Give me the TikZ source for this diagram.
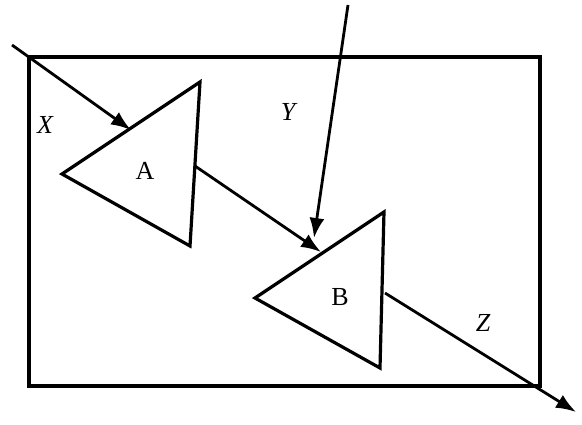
\documentclass[tikz,border=0pt]{standalone}
\usepackage{fontspec}
\setmainfont{Liberation Serif}
\usetikzlibrary{arrows.meta}
\begin{document}
\begin{tikzpicture}[x=1pt,y=-1pt,
  thick line/.style={line width=3.2pt, line join=miter},
  ray/.style={line width=2.8pt, -{Latex[length=20pt,width=15pt]}},
  lbl/.style={font=\fontsize{26}{26}\selectfont, inner sep=0pt}]
\useasboundingbox (0,0) rectangle (582,425);
% rectangle
\coordinate (r1) at (29,57);
\coordinate (r2) at (540,386);
\draw[thick line] (r1) rectangle (r2);
% triangle A
\coordinate (aL) at (62,174);
\coordinate (aT) at (200,82);
\coordinate (aB) at (190,246);
\draw[thick line] (aL) -- (aT) -- (aB) -- cycle;
% triangle B
\coordinate (bL) at (255,298);
\coordinate (bT) at (384,212);
\coordinate (bB) at (380,368);
\draw[thick line] (bL) -- (bT) -- (bB) -- cycle;
% rays
\coordinate (xs) at (12,45);
\coordinate (xe) at (131,130);
\draw[ray] (xs) -- (xe);
\coordinate (ys) at (348,5);
\coordinate (ye) at (314,238);
\draw[ray] (ys) -- (ye);
\coordinate (abs) at (195,166);
\coordinate (abe) at (321,252);
\draw[ray] (abs) -- (abe);
\coordinate (zs) at (385,293);
\coordinate (ze) at (576,412);
\draw[ray] (zs) -- (ze);
% labels
\node[lbl] (lx) at (45,125) {\itshape X};
\node[lbl] (ly) at (288,112) {\itshape Y};
\node[lbl] (lz) at (483,323) {\itshape Z};
\node[lbl] (la) at (145,171) {A};
\node[lbl] (lb) at (340,297) {B};
\end{tikzpicture}
\end{document}
